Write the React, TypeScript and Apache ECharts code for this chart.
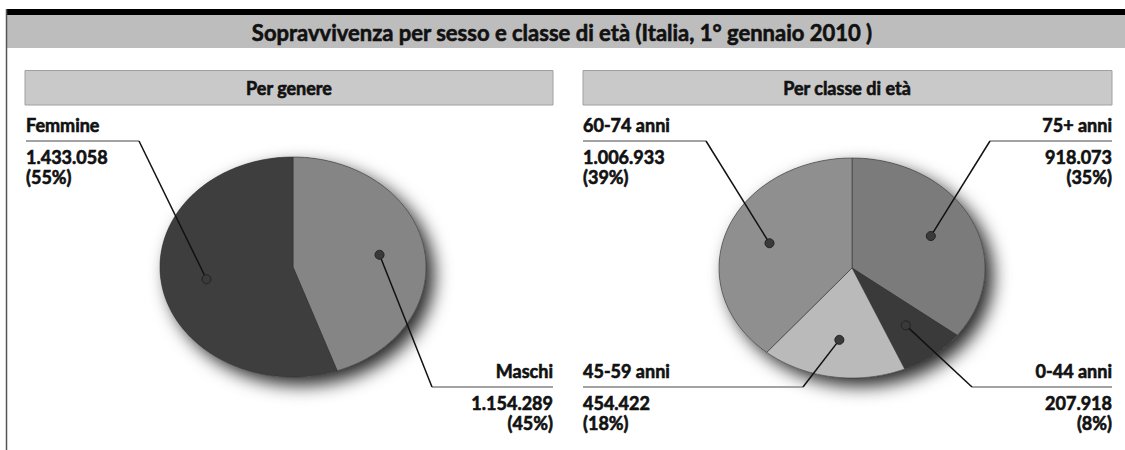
import React, { useEffect, useRef } from "react";
import * as echarts from "echarts";

// ---------- data ----------
const TITLE = "Sopravvivenza per sesso e classe di età (Italia, 1° gennaio 2010 )";
const GENDER_TITLE = "Per genere";
const AGE_TITLE = "Per classe di età";

// slices listed clockwise from 12 o'clock
const genderNames = ["Maschi", "Femmine"];
const genderValues = [1154289, 1433058];

const ageNames = ["75+ anni", "0-44 anni", "45-59 anni", "60-74 anni"];
const ageValues = [918073, 207918, 454422, 1006933];

// ---------- styles / layout ----------
const FONT = "Lato, 'Open Sans', sans-serif";
const WEIGHT = "bold";
const TEXT_STROKE = { stroke: "#111", lineWidth: 0.6 };
const genderColors = ["#858585", "#3e3e3e"];
const ageColors = ["#7b7b7b", "#3a3a3a", "#bababa", "#8f8f8f"];

const PIE_RX = 133;
const PIE_RY = 110;
const DOT_F = 0.66;
const genderCenter = [293, 267];
const ageCenter = [852, 268];

const ROW_Y: Record<string, number> = { top: 141, bottom: 387 };

const genderLayout = [
  { align: "right", row: "bottom", x: 553, elbow: 432 },
  { align: "left", row: "top", x: 26, elbow: 139 },
];
const ageLayout = [
  { align: "right", row: "top", x: 1112, elbow: 990 },
  { align: "right", row: "bottom", x: 1112, elbow: 972 },
  { align: "left", row: "bottom", x: 583, elbow: 803 },
  { align: "left", row: "top", x: 583, elbow: 706 },
];

const fmt = (v: number) => String(v).replace(/\B(?=(\d{3})+(?!\d))/g, ".");

const pt = (c: number[], th: number, f: number) => [
  c[0] + f * PIE_RX * Math.sin(th),
  c[1] - f * PIE_RY * Math.cos(th),
];

function sliceAngles(values: number[], i: number) {
  const total = values.reduce((a, b) => a + b, 0);
  let start = 0;
  for (let k = 0; k < i; k++) start += (values[k] / total) * Math.PI * 2;
  const end = start + (values[i] / total) * Math.PI * 2;
  return { start, end, total };
}

function makeSeries(names: string[], values: number[], colors: string[], center: number[], layout: any[]) {
  const slices = {
    type: "custom",
    coordinateSystem: "none",
    z: 5,
    silent: true,
    data: values.map((v, i) => ({ name: names[i], value: v })),
    renderItem: (params: any) => {
      const i = params.dataIndex;
      const { start, end } = sliceAngles(values, i);
      const pts: number[][] = [center];
      const steps = Math.max(2, Math.ceil(((end - start) * 180) / Math.PI));
      for (let s = 0; s <= steps; s++) {
        pts.push(pt(center, start + ((end - start) * s) / steps, 1));
      }
      const children: any[] = [];
      if (i === 0) {
        const ell: number[][] = [];
        for (let s = 0; s < 360; s++) ell.push(pt(center, (s * Math.PI) / 180, 1));
        children.push({
          type: "polygon",
          shape: { points: ell },
          style: {
            fill: "#777",
            shadowBlur: 18,
            shadowColor: "rgba(0,0,0,0.85)",
            shadowOffsetX: 8,
            shadowOffsetY: 8,
          },
        });
      }
      children.push({
        type: "polygon",
        shape: { points: pts },
        style: { fill: colors[i], stroke: "rgba(50,50,50,0.7)", lineWidth: 0.8 },
      });
      return { type: "group", children };
    },
  };

  const labels = {
    type: "custom",
    coordinateSystem: "none",
    z: 10,
    silent: true,
    data: values.map((v, i) => ({ name: names[i], value: v })),
    renderItem: (params: any) => {
      const i = params.dataIndex;
      const { start, end, total } = sliceAngles(values, i);
      const dot = pt(center, (start + end) / 2, DOT_F);
      const lay = layout[i];
      const ly = ROW_Y[lay.row];
      const pct = Math.round((values[i] / total) * 100);
      const txt = (text: string, y: number) => ({
        type: "text",
        x: lay.x,
        y,
        style: {
          text,
          fill: "#111",
          ...TEXT_STROKE,
          fontFamily: FONT,
          fontWeight: WEIGHT,
          fontSize: 18,
          align: lay.align,
          verticalAlign: "middle",
        },
      });
      return {
        type: "group",
        children: [
          {
            type: "line",
            shape: { x1: lay.x, y1: ly, x2: lay.elbow, y2: ly },
            style: { stroke: "#a3a3a3", lineWidth: 2 },
          },
          {
            type: "line",
            shape: { x1: lay.elbow, y1: ly, x2: dot[0], y2: dot[1] },
            style: { stroke: "#111", lineWidth: 1.5 },
          },
          {
            type: "circle",
            shape: { cx: dot[0], cy: dot[1], r: 4.5 },
            style: { fill: "#3a3a3a", stroke: "#222", lineWidth: 1 },
          },
          txt(names[i], ly - 16),
          txt(fmt(values[i]), ly + 16),
          txt("(" + pct + "%)", ly + 36),
        ],
      };
    },
  };
  return [slices, labels];
}

export default function App() {
  const ref = useRef<HTMLDivElement>(null);
  useEffect(() => {
    document.body.style.margin = "0";
    const chart = echarts.init(ref.current!, null, { renderer: "svg" });
    chart.setOption({
      animation: false,
      backgroundColor: "#ffffff",
      graphic: [
        { type: "rect", z: 0, shape: { x: 6, y: 9, width: 1119, height: 6 }, style: { fill: "#000" } },
        { type: "rect", z: 0, shape: { x: 6, y: 15, width: 1119, height: 33 }, style: { fill: "#bdbdbd" } },
        { type: "line", z: 0, shape: { x1: 6.5, y1: 9, x2: 6.5, y2: 450 }, style: { stroke: "#555", lineWidth: 1.5 } },
        {
          type: "text", z: 1, x: 562, y: 32,
          style: { text: TITLE, fill: "#111", ...TEXT_STROKE, fontFamily: FONT, fontWeight: WEIGHT, fontSize: 22, align: "center", verticalAlign: "middle" },
        },
        { type: "rect", z: 0, shape: { x: 25, y: 70.5, width: 528, height: 34.5 }, style: { fill: "#c9c9c9", stroke: "#a0a0a0", lineWidth: 1 } },
        { type: "rect", z: 0, shape: { x: 583, y: 70.5, width: 529, height: 34.5 }, style: { fill: "#c9c9c9", stroke: "#a0a0a0", lineWidth: 1 } },
        {
          type: "text", z: 1, x: 289, y: 88,
          style: { text: GENDER_TITLE, fill: "#111", ...TEXT_STROKE, fontFamily: FONT, fontWeight: WEIGHT, fontSize: 18, align: "center", verticalAlign: "middle" },
        },
        {
          type: "text", z: 1, x: 847, y: 88,
          style: { text: AGE_TITLE, fill: "#111", ...TEXT_STROKE, fontFamily: FONT, fontWeight: WEIGHT, fontSize: 18, align: "center", verticalAlign: "middle" },
        },
      ],
      series: [
        ...makeSeries(genderNames, genderValues, genderColors, genderCenter, genderLayout),
        ...makeSeries(ageNames, ageValues, ageColors, ageCenter, ageLayout),
      ],
    });
    return () => chart.dispose();
  }, []);
  return <div ref={ref} style={{ width: 1125, height: 450 }} />;
}
